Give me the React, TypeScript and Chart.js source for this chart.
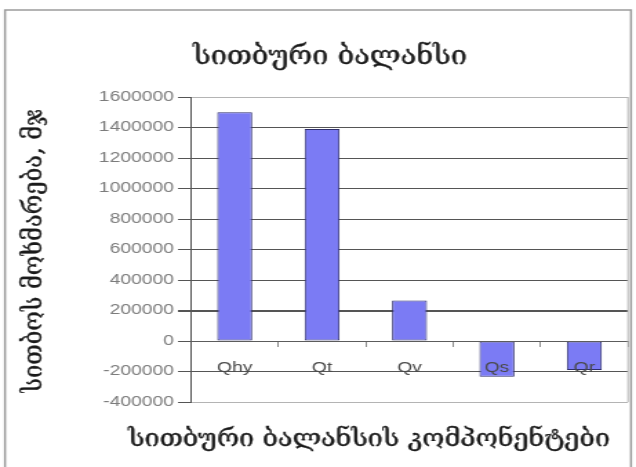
import { useEffect, useRef } from "react";
import { Chart, registerables } from "chart.js";

Chart.register(...registerables);

// Heat balance components and their values (MJ)
const categories = ["Qhy", "Qt", "Qv", "Qs", "Qr"];
const heatValues = [1500000, 1390000, 265000, -235000, -190000];
const yTicks = [
  -400000, -200000, 0, 200000, 400000, 600000, 800000, 1000000, 1200000, 1400000, 1600000,
];

const chartTitle = "სითბური ბალანსი";
const yTitle = "სითბოს მოხმარება, მჯ";
const xTitle = "სითბური ბალანსის კომპონენტები";

// The chart is painted on a narrower canvas that CSS widens to the page size,
// which gives the wide letterforms of the original Excel export.
const OUT_W = 636;
const OUT_H = 467;
const CANVAS_W = 461;
const SX = OUT_W / CANVAS_W;
const px = (x: number) => x / SX; // page x -> canvas x

const GEORGIAN = '"DejaVu Serif", "DejaVu Sans", serif';
const LATIN = '"Liberation Sans", Arial, sans-serif';

function fitSize(ctx: CanvasRenderingContext2D, text: string, width: number) {
  ctx.font = `100px ${GEORGIAN}`;
  const w = ctx.measureText(text).width;
  return (100 * width) / w;
}

// Georgian caption: fitted to a width, taller than wide, with a slight stroke for weight
function drawCaption(
  ctx: CanvasRenderingContext2D,
  text: string,
  cx: number,
  cy: number,
  width: number,
  rotate: boolean,
  yScale: number
) {
  ctx.save();
  ctx.font = `${fitSize(ctx, text, width)}px ${GEORGIAN}`;
  ctx.translate(cx, cy);
  if (rotate) ctx.rotate(-Math.PI / 2);
  ctx.scale(1, yScale);
  ctx.fillStyle = "#1a1a1a";
  ctx.strokeStyle = "#1a1a1a";
  ctx.lineWidth = 0.35;
  ctx.textAlign = "center";
  ctx.textBaseline = "middle";
  ctx.fillText(text, 0, 0);
  ctx.strokeText(text, 0, 0);
  ctx.restore();
}

const decorPlugin = {
  id: "decor",
  beforeDraw(chart: any) {
    const { ctx, width, height } = chart;
    ctx.save();
    ctx.fillStyle = "#ffffff";
    ctx.fillRect(0, 0, width, height);
    ctx.strokeStyle = "#9c9c9c";
    ctx.lineWidth = 1.5;
    ctx.strokeRect(px(5), 10, px(631) - px(5), height + 10);
    ctx.restore();
  },
  afterDraw(chart: any) {
    const { ctx, chartArea } = chart;
    ctx.save();
    // right edge of the plot area
    ctx.strokeStyle = "#b4b4b4";
    ctx.lineWidth = 1;
    ctx.beginPath();
    ctx.moveTo(chartArea.right, chartArea.top);
    ctx.lineTo(chartArea.right, chartArea.bottom);
    ctx.stroke();
    ctx.restore();

    drawCaption(ctx, chartTitle, px(330), 57, px(274), false, 1.2);
    drawCaption(ctx, xTitle, px(369), 440, px(482), false, 1.2);
    drawCaption(ctx, yTitle, px(34), 251, 283, true, 0.8);
  },
};

export default function App() {
  const canvasRef = useRef<HTMLCanvasElement>(null);

  useEffect(() => {
    const canvas = canvasRef.current;
    if (!canvas) return;
    const chart = new Chart(canvas, {
      type: "bar",
      data: {
        labels: categories,
        datasets: [
          {
            data: heatValues,
            backgroundColor: "#7b7bf4",
            borderColor: "#2f2f6c",
            borderWidth: 1,
            borderSkipped: false,
            barPercentage: 0.4,
            categoryPercentage: 1,
          },
        ],
      },
      options: {
        responsive: false,
        animation: false,
        devicePixelRatio: 1,
        layout: {
          padding: { top: 97, bottom: OUT_H - 402, left: 0, right: CANVAS_W - px(628) },
        },
        plugins: {
          legend: { display: false },
          title: { display: false },
          tooltip: { enabled: false },
        },
        scales: {
          x: {
            position: { y: 0 },
            offset: true,
            grid: {
              offset: true,
              drawOnChartArea: false,
              drawTicks: true,
              tickLength: 5,
              color: "#8a8a8a",
              tickColor: "#8a8a8a",
            },
            border: { display: true, color: "#5c5c5c", width: 1, z: 1 },
            ticks: {
              z: 1,
              color: "#4a4a4a",
              font: { family: LATIN, size: 14 },
              padding: 14,
              maxRotation: 0,
            },
          },
          y: {
            min: -400000,
            max: 1600000,
            afterBuildTicks: (scale: any) => {
              scale.ticks = yTicks.map((value) => ({ value }));
            },
            afterFit: (scale: any) => {
              scale.width = px(191);
            },
            grid: {
              color: (c: any) =>
                c.tick && (c.tick.value === 1600000 || c.tick.value === -400000)
                  ? "#b4b4b4"
                  : "#555555",
              lineWidth: (c: any) => (c.tick && c.tick.value === 200000 ? 2 : 1),
              tickColor: "#555555",
              tickLength: px(13),
            },
            border: { color: "#555555", width: 1 },
            ticks: {
              color: "#7c7c7c",
              font: { family: LATIN, size: 14 },
              padding: px(4),
              callback: (v: any) => String(v),
            },
          },
        },
      },
      plugins: [decorPlugin],
    });
    return () => chart.destroy();
  }, []);

  return (
    <div
      style={{
        position: "absolute",
        left: 0,
        top: 0,
        width: OUT_W,
        height: OUT_H,
        background: "#ffffff",
      }}
    >
      <canvas
        ref={canvasRef}
        width={CANVAS_W}
        height={OUT_H}
        style={{ display: "block", width: OUT_W, height: OUT_H }}
      />
    </div>
  );
}
